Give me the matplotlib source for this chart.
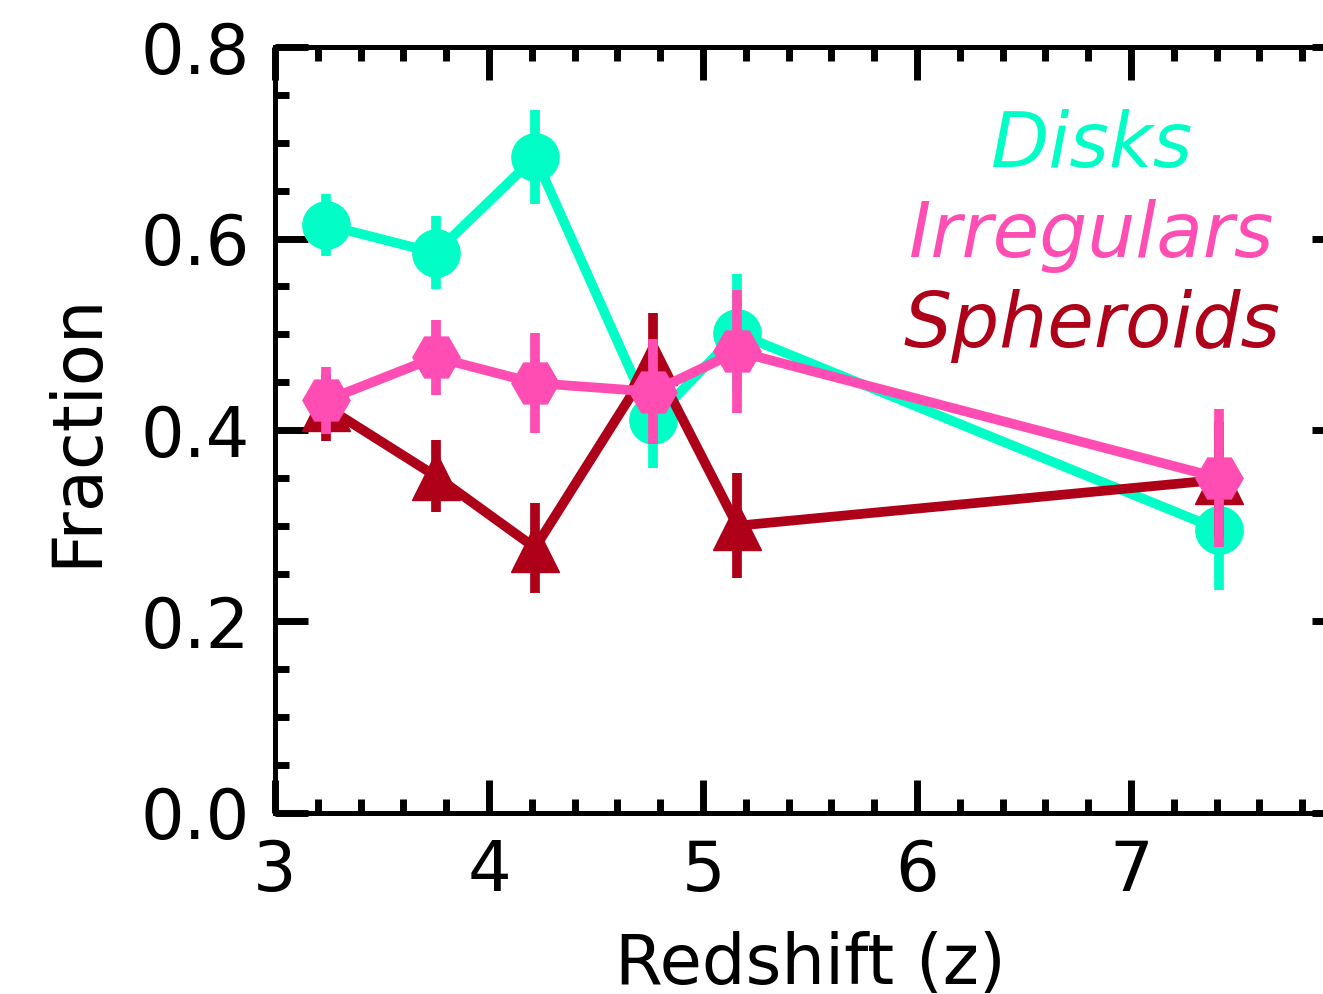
import matplotlib.pyplot as plt
from matplotlib.ticker import MultipleLocator

# redshift bins
redshift = [3.24, 3.75, 4.215, 4.765, 5.16, 7.41]

disks = [0.614, 0.585, 0.685, 0.410, 0.501, 0.296]
disks_err = [0.032, 0.038, 0.049, 0.050, 0.062, 0.063]

irregulars = [0.431, 0.476, 0.449, 0.440, 0.482, 0.350]
irregulars_err = [0.035, 0.039, 0.052, 0.055, 0.064, 0.072]

spheroids = [0.424, 0.352, 0.277, 0.472, 0.300, 0.348]
spheroids_err = [0.035, 0.038, 0.047, 0.050, 0.055, 0.060]

names = ['Disks', 'Irregulars', 'Spheroids']
colors = ['#00FFC6', '#FF4DB3', '#AF0019']

fig = plt.figure(figsize=(13.23, 9.94), dpi=100)
ax = fig.add_axes([0.2079, 0.1821, 0.8088, 0.7706])

ax.errorbar(redshift, disks, yerr=disks_err, color=colors[0], marker='o',
            ms=34, lw=7, elinewidth=7, capsize=0, zorder=2)
ax.errorbar(redshift, spheroids, yerr=spheroids_err, color=colors[2], marker='^',
            ms=34, lw=7, elinewidth=7, capsize=0, zorder=3)
ax.errorbar(redshift, irregulars, yerr=irregulars_err, color=colors[1], marker='H',
            ms=34, lw=7, elinewidth=7, capsize=0, zorder=4)

ax.set_xlim(3, 8)
ax.set_ylim(0, 0.8)
ax.xaxis.set_major_locator(MultipleLocator(1))
ax.xaxis.set_minor_locator(MultipleLocator(0.2))
ax.yaxis.set_major_locator(MultipleLocator(0.2))
ax.yaxis.set_minor_locator(MultipleLocator(0.05))
ax.set_xticks([3, 4, 5, 6, 7])
ax.set_xticklabels(['3', '4', '5', '6', '7'])

for s in ax.spines.values():
    s.set_linewidth(3.6)
ax.tick_params(which='both', direction='in', top=True, right=True, labelsize=49.5)
ax.tick_params(which='major', length=24, width=5)
ax.tick_params(which='minor', length=10, width=5)
ax.tick_params(axis='y', pad=18)
ax.tick_params(axis='x', pad=18)

ax.set_xlabel('Redshift (z)', fontsize=49.5, labelpad=19)
ax.set_ylabel('Fraction', fontsize=49.5, labelpad=22)

# legend as coloured text
for i, (name, c) in enumerate(zip(names, colors)):
    fig.text(0.8254, 1 - (167 + 90 * i) / 994, name, color=c, fontsize=54.5,
             style='italic', ha='center', va='baseline')

fig.savefig('out.png', dpi=100)
